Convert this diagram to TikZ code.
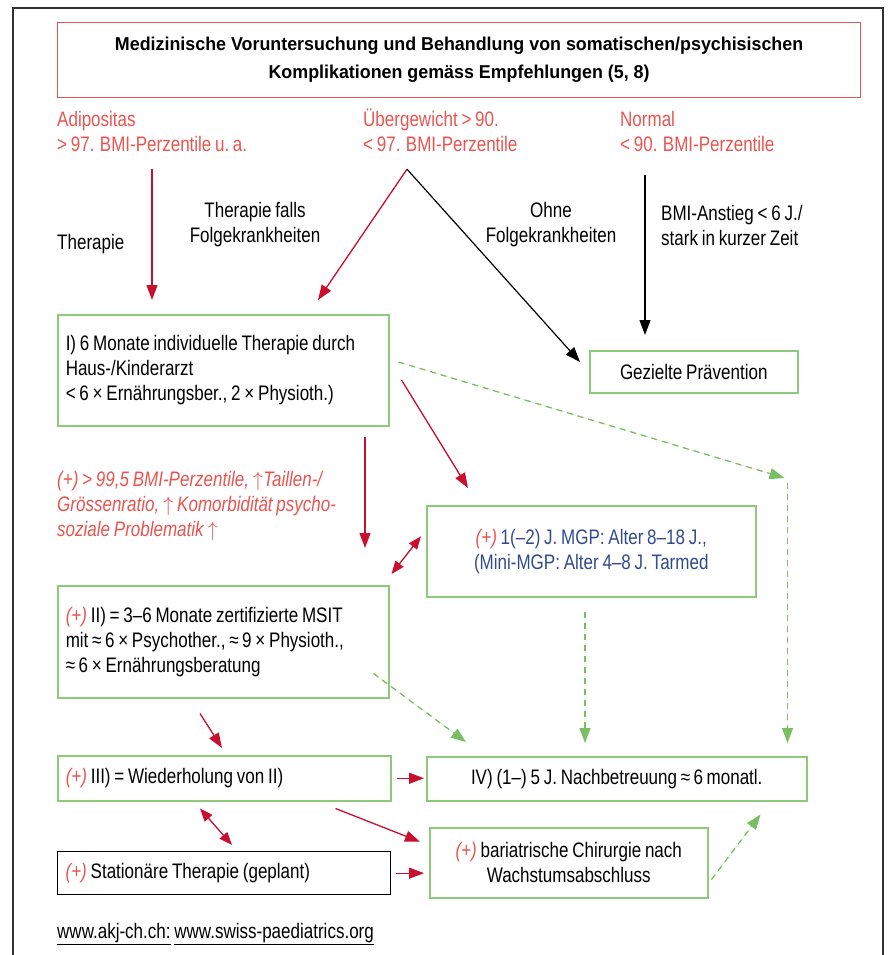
\documentclass[tikz,border=0pt]{standalone}
\usepackage{fontspec}
\setmainfont{Liberation Sans}[FakeStretch=0.81, WordSpace=0.8]
\newfontfamily\titlefont{Liberation Sans}[FakeStretch=0.96]
\usetikzlibrary{positioning,calc,arrows.meta}

\definecolor{labred}{RGB}{232,84,80}
\definecolor{arrred}{RGB}{200,16,46}
\definecolor{boxgreen}{RGB}{142,200,122}
\definecolor{dashgreen}{RGB}{122,190,100}
\definecolor{mgpblue}{RGB}{50,75,140}

\newcommand{\plus}{\textcolor{labred}{\itshape(+)}}
\newcommand{\upar}{$\uparrow$}

\begin{document}
\begin{tikzpicture}[x=1pt,y=-1pt,
  every node/.style={font=\fontsize{21pt}{25pt}\selectfont},
  tip/.style={-{Triangle[length=15pt,width=11pt]}},
  redarr/.style={tip, draw=arrred, fill=arrred, line width=1.3pt},
  redboth/.style={{Triangle[length=13pt,width=10pt]}-{Triangle[length=13pt,width=10pt]}, draw=arrred, fill=arrred, line width=1.3pt},
  blackarr/.style={tip, draw=black, line width=1.2pt},
  greenarr/.style={tip, draw=dashgreen, fill=dashgreen, line width=1.3pt, dash pattern=on 6pt off 5pt},
  greenbox/.style={draw=boxgreen, line width=1.5pt, anchor=north west, inner sep=8pt},
  leftbox/.style={greenbox, align=flush left},
  labtext/.style={inner sep=0pt, anchor=north west, align=left},
  labred/.style={labtext, text=labred},
]
\useasboundingbox (0,0) rectangle (889,955);
\draw[line width=1.5pt, black!80] (13,955) -- (13,8) -- (883,8) -- (883,955);

% Kopf
\node[draw=labred, line width=1.2pt, anchor=north west, minimum width=803pt, minimum height=75pt,
  align=center, font=\titlefont\fontsize{18.6pt}{28pt}\selectfont\bfseries] (title) at (57,22)
  {Medizinische Voruntersuchung und Behandlung von somatischen/psychisischen\\
   Komplikationen gemäss Empfehlungen (5, 8)};

\node[labred] (adip) at (57,111) {Adipositas\\> 97. BMI-Perzentile u.\,a.};
\node[labred] (ueber) at (363,109) {Übergewicht > 90.\\< 97. BMI-Perzentile};
\node[labred] (norm) at (620,111) {Normal\\< 90. BMI-Perzentile};

\node[inner sep=0pt, anchor=west] (lthera) at (57,244) {Therapie};
\node[align=center, inner sep=0pt] (lfalls) at (255,225) {Therapie falls\\Folgekrankheiten};
\node[align=center, inner sep=0pt] (lohne) at (551,225) {Ohne\\Folgekrankheiten};
\node[align=left, inner sep=0pt, anchor=west] (lanstieg) at (661,225) {BMI-Anstieg < 6 J./\\stark in kurzer Zeit};

% Stufen
\node[leftbox, minimum width=331pt, minimum height=111pt, text width=315pt] (boxI) at (57,314)
  {I) 6 Monate individuelle Therapie durch\\Haus-/Kinderarzt\\< 6 × Ernährungsber., 2 × Physioth.)};
\node[greenbox, minimum width=208pt, minimum height=42pt, align=center] (gez) at (589,350) {Gezielte Prävention};

\node[labred, font=\fontsize{21pt}{25pt}\selectfont\itshape] (crit) at (57,471)
  {(+) > 99,5 BMI-Perzentile, \upar Taillen-/\\Grössenratio, \upar\ Komorbidität psycho-\\soziale Problematik \upar};

\node[greenbox, minimum width=329pt, minimum height=91pt, align=center, text=mgpblue] (mgp) at (426,505)
  {\plus\ 1(–2) J. MGP: Alter 8–18 J.,\\(Mini-MGP: Alter 4–8 J. Tarmed};
\node[leftbox, minimum width=331pt, minimum height=112pt, text width=315pt] (boxII) at (57,585)
  {\plus\ II) = 3–6 Monate zertifizierte MSIT\\mit ≈\,6 × Psychother., ≈\,9 × Physioth.,\\≈\,6 × Ernährungsberatung};

\node[leftbox, minimum width=333pt, minimum height=45pt, text width=317pt] (boxIII) at (57,755)
  {\plus\ III) = Wiederholung von II)};
\node[greenbox, minimum width=380pt, minimum height=44pt, align=center] (iv) at (426,756)
  {IV) (1–) 5 J. Nachbetreuung ≈\,6\,monatl.};
\node[leftbox, draw=black, line width=1.3pt, minimum width=333pt, minimum height=43pt, text width=317pt] (stat) at (57,851)
  {\plus\ Stationäre Therapie (geplant)};
\node[greenbox, minimum width=278pt, minimum height=70pt, align=center] (bari) at (429,827)
  {\plus\ bariatrische Chirurgie nach\\Wachstumsabschluss};

\node[inner sep=0pt, anchor=base west] (links) at (57,938)
  {\underline{www.akj-ch.ch:} \underline{www.swiss-paediatrics.org}};

% Pfeile
\coordinate (split) at ($(ueber.south west)+(44,17)$);
\coordinate (bend) at ($(mgp.north east)+(28,-27)$);
\draw[redarr] ($(adip.south west)+(95,17)$) -- ($(boxI.north west)+(95,-14)$);
\draw[redarr] (split) -- ($(boxI.north west)+(261,-14)$);
\draw[blackarr] (split) -- ($(gez.north west)+(-9,12)$);
\draw[blackarr] ($(norm.south west)+(25,23)$) -- ($(gez.north west)+(56,-15)$);
\draw[greenarr] ($(boxI.north east)+(9,48)$) -- (bend);
\draw[greenarr] ($(bend)+(3,5)$) -- ($(iv.north east)+(-20,-13)$);
\draw[redarr] ($(boxI.north east)+(12,66)$) -- ($(mgp.north west)+(42,-17)$);
\draw[redarr] ($(boxI.south west)+(308,10)$) -- ($(boxII.north west)+(308,-37)$);
\draw[redboth] ($(boxII.north east)+(2,-11)$) -- ($(mgp.west)+(-5,-15)$);
\draw[greenarr] ($(mgp.south west)+(159,14)$) -- ($(iv.north west)+(159,-13)$);
\draw[greenarr] ($(boxII.south east)+(-16,-25)$) -- ($(iv.north west)+(40,-14)$);
\draw[redarr] ($(boxII.south west)+(143,15)$) -- ($(boxIII.north west)+(165,-7)$);
\draw[redarr, shorten <=5pt, shorten >=2pt] (boxIII.east) -- (boxIII.east -| iv.west);
\draw[redarr] ($(boxIII.south east)+(-56,7)$) -- ($(bari.west)+(-9,-21)$);
\draw[redboth] ($(boxIII.south west)+(143,7)$) -- ($(stat.north west)+(175,-6)$);
\draw[redarr, shorten <=5pt, shorten >=5pt] (stat.east) -- (stat.east -| bari.west);
\draw[greenarr] ($(bari.south east)+(3,-19)$) -- ($(iv.south east)+(-47,13)$);
\end{tikzpicture}
\end{document}
